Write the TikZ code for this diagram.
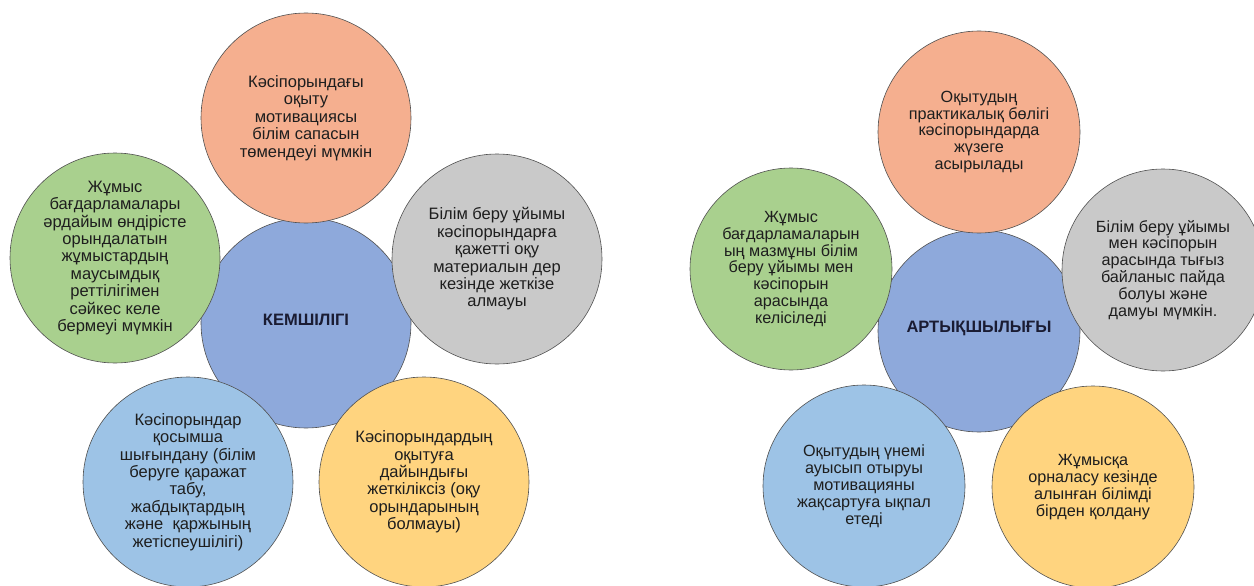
\documentclass[tikz,border=0pt]{standalone}
\usepackage{fontspec}
\setmainfont{Liberation Sans}
\definecolor{cOrange}{HTML}{F5AF8F}
\definecolor{cGreen}{HTML}{A9D08E}
\definecolor{cGray}{HTML}{C9C9C9}
\definecolor{cBlue}{HTML}{8EA9DB}
\definecolor{cLBlue}{HTML}{9DC3E6}
\definecolor{cYellow}{HTML}{FFD47F}
\definecolor{cLine}{HTML}{505050}
\definecolor{cText}{HTML}{1E1E1E}
\definecolor{cHub}{HTML}{1A1C33}
\tikzset{
  petalL/.style={circle, draw=cLine, line width=0.6pt, minimum size=210pt, inner sep=0pt,
    align=center, text=cText, font=\fontsize{16.5}{17.4}\selectfont},
  petalR/.style={circle, draw=cLine, line width=0.6pt, minimum size=202pt, inner sep=0pt,
    align=center, text=cText, font=\fontsize{16.2}{16.9}\selectfont},
  hubL/.style={petalL, fill=cBlue, text=cHub, font=\fontsize{16.5}{17.4}\selectfont\bfseries},
  hubR/.style={petalR, fill=cBlue, text=cHub, font=\fontsize{16.5}{17.4}\selectfont\bfseries},
}
\begin{document}
\begin{tikzpicture}[x=1pt,y=-1pt]
\useasboundingbox (0,0) rectangle (1254,586);
\fill[white] (0,0) rectangle (1254,586);
% ---------- left diagram ----------
\node[hubL] (L0) at (306,323) {};
\node[text=cHub, font=\fontsize{16.5}{17.4}\selectfont\bfseries] (L0t) at (306,320) {КЕМШІЛІГІ};
\node[petalL, fill=cOrange] (L1) at (306,118) {Кәсіпорындағы\\оқыту\\мотивациясы\\білім сапасын\\төмендеуі мүмкін};
\node[petalL, fill=cGreen] (L2) at (115,258) {Жұмыс\\бағдарламалары\\әрдайым өндірісте\\орындалатын\\жұмыстардың\\маусымдық\\реттілігімен\\сәйкес келе\\бермеуі мүмкін};
\node[petalL, fill=cGray] (L3) at (497,259) {Білім беру ұйымы\\кәсіпорындарға\\қажетті оқу\\материалын дер\\кезінде жеткізе\\алмауы};
\node[petalL, fill=cLBlue] (L4) at (188,482) {Кәсіпорындар\\қосымша\\шығындану (білім\\беруге қаражат\\табу,\\жабдықтардың\\және\ \ қаржының\\жетіспеушілігі)};
\node[petalL, fill=cYellow] (L5) at (424,482) {Кәсіпорындардың\\оқытуға\\дайындығы\\жеткіліксіз (оқу\\орындарының\\болмауы)};
% ---------- right diagram ----------
\node[hubR] (R0) at (979,331) {};
\node[text=cHub, font=\fontsize{16.5}{17.4}\selectfont\bfseries] (R0t) at (979,328) {АРТЫҚШЫЛЫҒЫ};
\node[petalR, fill=cOrange] (R1) at (979,132) {Оқытудың\\практикалық бөлігі\\кәсіпорындарда\\жүзеге\\асырылады};
\node[petalR, fill=cGreen] (R2) at (791,269) {Жұмыс\\бағдарламаларын\\ың мазмұны білім\\беру ұйымы мен\\кәсіпорын\\арасында\\келісіледі};
\node[petalR, fill=cGray] (R3) at (1163,270) {Білім беру ұйымы\\мен кәсіпорын\\арасында тығыз\\байланыс пайда\\болуы және\\дамуы мүмкін.};
\node[petalR, fill=cLBlue] (R4) at (864,486) {Оқытудың үнемі\\ауысып отыруы\\мотивацияны\\жақсартуға ықпал\\етеді};
\node[petalR, fill=cYellow] (R5) at (1093,487) {Жұмысқа\\орналасу кезінде\\алынған білімді\\бірден қолдану};
\end{tikzpicture}
\end{document}
